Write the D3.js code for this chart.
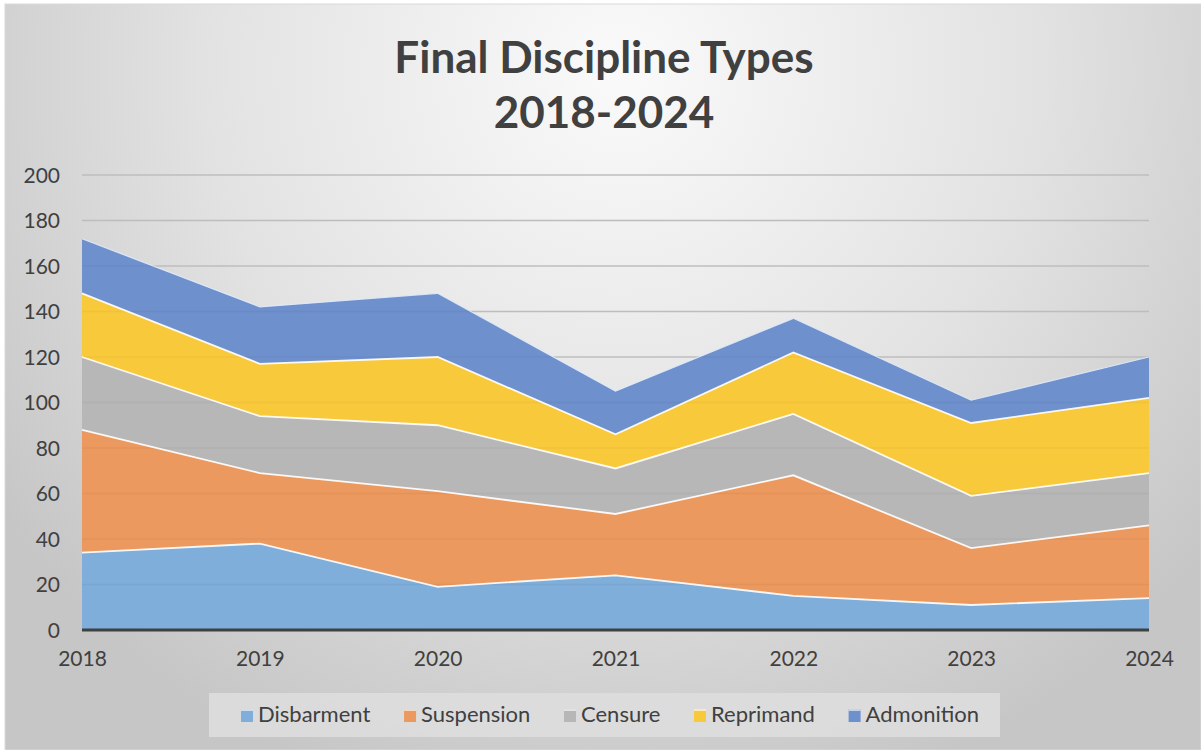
<!DOCTYPE html>
<html><head><meta charset="utf-8">
<script src="https://cdn.jsdelivr.net/npm/d3@7"></script>
<style>
html,body{margin:0;padding:0;background:#fff;}
svg{display:block;}
text{font-family:Lato,"Open Sans",sans-serif;fill:#404040;}
</style></head>
<body><svg id="c" width="1201" height="750"></svg>
<script>
const years = ["2018","2019","2020","2021","2022","2023","2024"];
const seriesNames = ["Disbarment","Suspension","Censure","Reprimand","Admonition"];
const disbarment = [34, 38, 19, 24, 15, 11, 14];
const suspension = [54, 31, 42, 27, 53, 25, 32];
const censure    = [32, 25, 29, 20, 27, 23, 23];
const reprimand  = [28, 23, 30, 15, 27, 32, 33];
const admonition = [24, 25, 28, 19, 15, 10, 18];
const yTicks = [0,20,40,60,80,100,120,140,160,180,200];
const colors = ["#7eaed9","#eb995e","#b7b7b7","#f9c93c","#6e90cd"];

const svg = d3.select("#c");
const W = 1201, H = 750;

// background
const defs = svg.append("defs");
const rg = defs.append("radialGradient").attr("id","bg")
  .attr("gradientUnits","userSpaceOnUse").attr("cx",620).attr("cy",70).attr("r",760);
rg.append("stop").attr("offset","0").attr("stop-color","#fafafa");
rg.append("stop").attr("offset","0.55").attr("stop-color","#e2e2e2");
rg.append("stop").attr("offset","1").attr("stop-color","#c6c6c6");
svg.append("rect").attr("x",5).attr("y",4).attr("width",W-5).attr("height",H-4)
  .attr("fill","url(#bg)").attr("stroke","#d9d9d9").attr("stroke-width",1);

const m = {left:82, right:1149, top:175, bottom:630};
const x = d3.scalePoint().domain(years).range([m.left, m.right]);
const y = d3.scaleLinear().domain([0,200]).range([m.bottom, m.top]);

const rows = years.map((yr,i)=>({year:yr, Disbarment:disbarment[i], Suspension:suspension[i],
  Censure:censure[i], Reprimand:reprimand[i], Admonition:admonition[i]}));
const stacked = d3.stack().keys(seriesNames)(rows);

const area = d3.area().x(d=>x(d.data.year)).y0(d=>y(d[0])).y1(d=>y(d[1]));
const topLine = d3.line().x(d=>x(d.data.year)).y(d=>y(d[1]));

// gridlines under areas
svg.append("g").selectAll("line").data(yTicks.filter(t=>t>0)).join("line")
  .attr("x1",m.left).attr("x2",m.right).attr("y1",d=>y(d)).attr("y2",d=>y(d))
  .attr("stroke","#c4c4c4").attr("stroke-width",1.5);

svg.append("g").selectAll("path").data(stacked).join("path")
  .attr("d",area).attr("fill",(d,i)=>colors[i]);
// faint gridlines showing through fills
svg.append("g").selectAll("line").data(yTicks.filter(t=>t>0)).join("line")
  .attr("x1",m.left).attr("x2",m.right).attr("y1",d=>y(d)).attr("y2",d=>y(d))
  .attr("stroke","rgba(0,0,0,0.035)").attr("stroke-width",1.5);
svg.append("g").selectAll("path").data(stacked).join("path")
  .attr("d",topLine).attr("fill","none")
  .attr("stroke",(d,i)=> i===4 ? "rgba(225,235,250,0.9)" : "rgba(255,255,255,0.9)")
  .attr("stroke-width",(d,i)=> i===4 ? 1.2 : 1.8);

// baseline
svg.append("line").attr("x1",m.left).attr("x2",m.right).attr("y1",y(0)).attr("y2",y(0))
  .attr("stroke","#404040").attr("stroke-width",3);

// y axis labels
const yAxis = d3.axisLeft(y).tickValues(yTicks).tickSize(0).tickPadding(0);
const gy = svg.append("g").attr("transform",`translate(${m.left-22},0)`).call(yAxis);
gy.select(".domain").remove();
gy.selectAll("text").attr("font-size",21).attr("fill","#404040")
  .style("font-family","Lato, 'Open Sans', sans-serif").attr("dy","0.35em");

// x axis labels
const xAxis = d3.axisBottom(x).tickSize(0).tickPadding(0);
const gx = svg.append("g").attr("transform",`translate(0,${m.bottom+21})`).call(xAxis);
gx.select(".domain").remove();
gx.selectAll("text").attr("font-size",21).attr("fill","#404040")
  .style("font-family","Lato, 'Open Sans', sans-serif").attr("dy","0.71em");

// title
svg.append("text").attr("x",604).attr("y",73).attr("text-anchor","middle")
  .attr("font-size",44).attr("font-weight","bold").text("Final Discipline Types");
svg.append("text").attr("x",604).attr("y",128).attr("text-anchor","middle")
  .attr("font-size",44).attr("font-weight","bold").text("2018-2024");

// legend
svg.append("rect").attr("x",209).attr("y",693).attr("width",791).attr("height",44)
  .attr("fill","#dedede").attr("opacity",0.85);
const lg = svg.append("g");
const items = lg.selectAll("g").data(seriesNames).join("g");
items.append("rect").attr("width",12).attr("height",13).attr("y",-13)
  .attr("fill",(d,i)=>colors[i]);
items.append("rect").attr("width",12).attr("height",2).attr("y",-13)
  .attr("fill","rgba(255,255,255,0.6)");
items.append("text").attr("x",17).attr("font-size",22).text(d=>d);
let widths = [];
items.each(function(){ widths.push(this.getBBox().width); });
const legStart = 241, legEnd = 979;
const gap = (legEnd - legStart - d3.sum(widths)) / (widths.length-1);
let cx = legStart;
items.attr("transform",(d,i)=>{ const t=`translate(${cx},722)`; cx += widths[i]+gap; return t; });
</script></body></html>
